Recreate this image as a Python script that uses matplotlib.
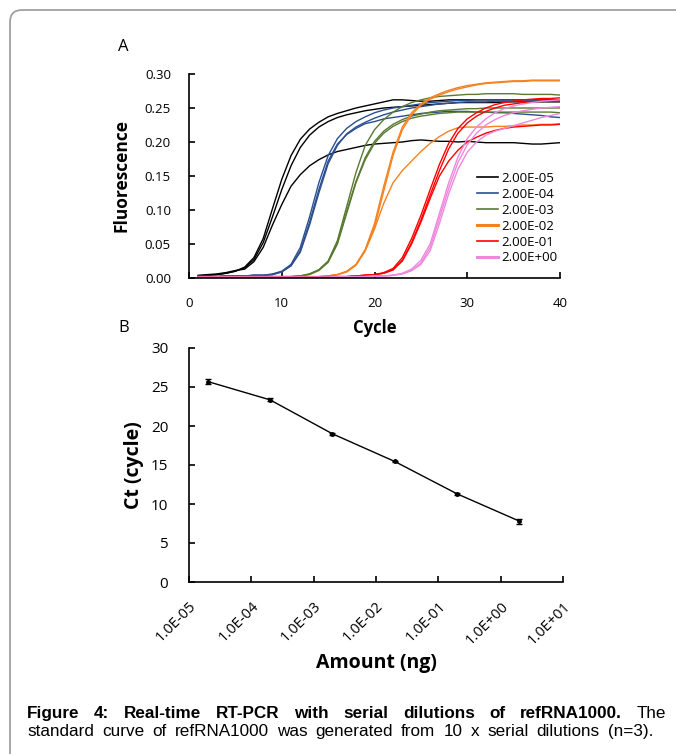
import matplotlib
matplotlib.use('Agg')
import matplotlib.pyplot as plt
import numpy as np
from matplotlib.patches import FancyBboxPatch

plt.rcParams['font.family'] = ['Open Sans', 'DejaVu Sans']

# ---- panel A: amplification curves (3 replicates per dilution, cycles 1..40)
cycles = list(range(1, 41))

dil_labels = ['2.00E-05', '2.00E-04', '2.00E-03', '2.00E-02', '2.00E-01', '2.00E+00']
dil_colors = ['#000000', '#2a4f8f', '#5a7a32', '#f5821f', '#ff0000', '#ee88dd']

curves_e05 = [
    [.003, .004, .005, .007, .010, .016, .030, .058, .102, .145,
     .180, .204, .219, .229, .237, .242, .246, .250, .253, .256,
     .259, .262, .262, .261, .260, .260, .261, .262, .262, .262,
     .262, .262, .262, .262, .262, .262, .262, .262, .262, .262],
    [.003, .004, .005, .007, .010, .015, .027, .052, .090, .130,
     .165, .192, .210, .222, .230, .236, .240, .243, .246, .248,
     .250, .251, .252, .253, .254, .255, .256, .257, .258, .258,
     .258, .258, .258, .259, .259, .259, .259, .259, .259, .259],
    [.004, .005, .006, .008, .011, .013, .024, .045, .078, .108,
     .135, .152, .165, .174, .181, .186, .189, .192, .195, .197,
     .198, .199, .200, .202, .203, .202, .201, .201, .200, .201,
     .200, .199, .199, .199, .199, .198, .197, .197, .198, .199],
]
curves_e04 = [
    [.002, .002, .002, .003, .003, .003, .004, .004, .006, .010,
     .020, .045, .090, .140, .180, .205, .220, .230, .237, .243,
     .247, .250, .252, .254, .256, .258, .259, .260, .261, .261,
     .262, .262, .262, .262, .262, .262, .262, .262, .262, .262],
    [.002, .002, .002, .003, .003, .003, .004, .004, .005, .009,
     .018, .040, .082, .130, .172, .197, .211, .220, .227, .230,
     .234, .236, .238, .240, .242, .243, .244, .245, .245, .245,
     .244, .244, .243, .243, .242, .241, .240, .239, .237, .236],
    [.002, .002, .002, .003, .003, .003, .004, .004, .005, .009,
     .018, .038, .078, .125, .168, .195, .212, .222, .229, .235,
     .240, .244, .247, .250, .252, .254, .256, .257, .258, .259,
     .259, .259, .260, .260, .260, .260, .260, .260, .260, .260],
]
curves_e03 = [
    [.002, .002, .002, .002, .002, .002, .002, .002, .002, .002,
     .002, .003, .006, .012, .025, .055, .105, .155, .195, .218,
     .233, .244, .252, .258, .262, .265, .267, .268, .269, .270,
     .270, .271, .271, .271, .271, .270, .270, .270, .270, .269],
    [.002, .002, .002, .002, .002, .002, .002, .002, .002, .002,
     .002, .003, .006, .012, .024, .052, .098, .142, .177, .201,
     .216, .226, .233, .238, .241, .244, .246, .247, .248, .249,
     .249, .250, .250, .250, .250, .250, .250, .250, .250, .250],
    [.002, .002, .002, .002, .002, .002, .002, .002, .002, .002,
     .002, .003, .005, .011, .023, .050, .095, .140, .174, .198,
     .213, .223, .230, .235, .238, .240, .242, .243, .244, .244,
     .244, .244, .244, .244, .244, .244, .244, .244, .244, .243],
]
curves_e02 = [
    [.002, .002, .002, .002, .002, .002, .002, .002, .002, .002,
     .002, .002, .002, .002, .003, .005, .010, .020, .042, .080,
     .135, .185, .222, .243, .256, .265, .271, .276, .280, .283,
     .285, .287, .288, .289, .290, .290, .291, .291, .291, .291],
    [.002, .002, .002, .002, .002, .002, .002, .002, .002, .002,
     .002, .002, .002, .002, .003, .005, .009, .019, .040, .075,
     .128, .180, .218, .240, .254, .263, .269, .274, .278, .281,
     .284, .286, .287, .288, .289, .289, .290, .290, .290, .290],
    [.002, .002, .002, .002, .002, .002, .002, .002, .002, .002,
     .002, .002, .002, .002, .003, .005, .009, .019, .040, .072,
     .110, .140, .158, .172, .186, .198, .208, .216, .221, .222,
     .222, .222, .223, .223, .224, .225, .225, .226, .226, .227],
]
curves_e01 = [
    [.001, .001, .001, .001, .001, .001, .001, .001, .001, .001,
     .001, .001, .001, .001, .002, .002, .002, .003, .004, .005,
     .008, .014, .030, .058, .092, .130, .167, .198, .220, .234,
     .243, .250, .255, .258, .260, .262, .263, .264, .264, .265],
    [.001, .001, .001, .001, .001, .001, .001, .001, .001, .001,
     .001, .001, .001, .001, .002, .002, .002, .003, .004, .005,
     .007, .012, .026, .052, .085, .122, .158, .190, .213, .228,
     .238, .245, .250, .254, .256, .258, .259, .260, .260, .260],
    [.001, .001, .001, .001, .001, .001, .001, .001, .001, .001,
     .001, .001, .001, .001, .002, .002, .002, .003, .004, .005,
     .007, .012, .025, .050, .082, .117, .150, .172, .188, .200,
     .207, .213, .217, .220, .222, .223, .224, .225, .225, .226],
]
curves_e00 = [
    [.001, .001, .001, .001, .001, .001, .001, .001, .001, .001,
     .001, .001, .001, .001, .001, .002, .002, .002, .002, .003,
     .003, .004, .007, .013, .026, .050, .095, .140, .178, .205,
     .222, .234, .243, .249, .253, .256, .258, .260, .261, .262],
    [.001, .001, .001, .001, .001, .001, .001, .001, .001, .001,
     .001, .001, .001, .001, .001, .002, .002, .002, .002, .003,
     .003, .004, .006, .011, .022, .045, .088, .132, .170, .196,
     .213, .225, .233, .239, .243, .246, .248, .250, .251, .252],
    [.001, .001, .001, .001, .001, .001, .001, .001, .001, .001,
     .001, .001, .001, .001, .001, .002, .002, .002, .002, .003,
     .003, .004, .006, .011, .020, .040, .080, .124, .160, .185,
     .200, .210, .216, .220, .224, .228, .232, .236, .239, .242],
]
all_curves = [curves_e05, curves_e04, curves_e03, curves_e02, curves_e01, curves_e00]

# ---- panel B: standard curve
amount_ng = [2e-5, 2e-4, 2e-3, 2e-2, 2e-1, 2e0]
ct_mean = [25.7, 23.35, 19.0, 15.45, 11.3, 7.8]
ct_sd = [0.3, 0.2, 0.12, 0.1, 0.12, 0.3]
b_ticks = [1e-5, 1e-4, 1e-3, 1e-2, 1e-1, 1e0, 1e1]
b_ticklabels = ['1.0E-05', '1.0E-04', '1.0E-03', '1.0E-02', '1.0E-01', '1.0E+00', '1.0E+01']

W, H = 676, 754
fig = plt.figure(figsize=(W / 100, H / 100), dpi=100)

# page frame (rounded corner at top-left)
frame = FancyBboxPatch((10 / W, -0.05), 1.2, (H - 10) / H + 0.05,
                       boxstyle='round,pad=0,rounding_size=0.018',
                       mutation_aspect=W / H, transform=fig.transFigure,
                       fill=False, ec='#a0a0a0', lw=1.3)
fig.add_artist(frame)

# ---- panel A
axA = fig.add_axes([189 / W, 1 - 278 / H, (560 - 189) / W, (278 - 74) / H])
for reps, col, lab in zip(all_curves, dil_colors, dil_labels):
    for i, r in enumerate(reps):
        axA.plot(cycles, r, color=col, lw=1.0, label=lab if i == 0 else None)
axA.set_xlim(0, 40)
axA.set_ylim(0, 0.30)
axA.set_xticks([0, 10, 20, 30, 40])
axA.set_yticks([0, 0.05, 0.10, 0.15, 0.20, 0.25, 0.30])
axA.set_yticklabels(['0.00', '0.05', '0.10', '0.15', '0.20', '0.25', '0.30'])
axA.spines[['top', 'right']].set_visible(False)
axA.tick_params(direction='in', length=4, width=1.2, labelsize=9.5)
axA.tick_params(axis='x', pad=14)
axA.tick_params(axis='y', pad=13)
for s in ['left', 'bottom']:
    axA.spines[s].set_linewidth(1.2)
axA.set_xlabel('Cycle', fontsize=12, fontweight='bold', labelpad=6)
axA.set_ylabel('Fluorescence', fontsize=12.5, fontweight='bold', labelpad=10)
leg = axA.legend(loc='upper left', bbox_to_anchor=(0.775, 0.52), frameon=False,
                 fontsize=9.5, handlelength=1.6, handletextpad=0.25,
                 labelspacing=0.22, borderpad=0, borderaxespad=0)
for h in leg.get_lines():
    if h.get_color() in ('#f5821f', '#ee88dd'):
        h.set_linewidth(2.2)
    else:
        h.set_linewidth(1.2)
fig.text(123 / W, 1 - 47 / H, 'A', fontsize=12, va='center', ha='center')

# ---- panel B
axB = fig.add_axes([189 / W, 1 - 582 / H, (563 - 189) / W, (582 - 348) / H])
axB.errorbar(amount_ng, ct_mean, yerr=ct_sd, color='black', lw=1.0,
             marker='o', ms=2.5, capsize=2.5, elinewidth=1.0, capthick=1.0)
axB.set_xscale('log')
axB.set_xlim(1e-5, 1e1)
axB.set_ylim(0, 30)
axB.set_yticks([0, 5, 10, 15, 20, 25, 30])
axB.set_xticks(b_ticks)
axB.set_xticklabels(b_ticklabels, rotation=45, ha='right', rotation_mode='anchor')
axB.minorticks_off()
axB.spines[['top', 'right']].set_visible(False)
for s in ['left', 'bottom']:
    axB.spines[s].set_linewidth(1.2)
axB.tick_params(direction='in', length=4, width=1.2)
axB.tick_params(axis='y', labelsize=11, pad=15)
axB.tick_params(axis='x', labelsize=10.5, pad=12)
axB.set_xlabel('Amount (ng)', fontsize=14, fontweight='bold', labelpad=4)
axB.set_ylabel('Ct (cycle)', fontsize=14, fontweight='bold', labelpad=5)
fig.text(124 / W, 1 - 328 / H, 'B', fontsize=12, va='center', ha='center')

# ---- caption: words spread to fill each line's width
cap_font = ['Liberation Sans', 'DejaVu Sans']
cap_size = 12.3
line1 = [(w, 'bold') for w in 'Figure 4: Real-time RT-PCR with serial dilutions of refRNA1000.'.split()]
line1 += [('The', 'normal')]
line2 = [(w, 'normal') for w in
         'standard curve of refRNA1000 was generated from 10 x serial dilutions (n=3).'.split()]
x_left = 27
fig.canvas.draw()
renderer = fig.canvas.get_renderer()


def spread(line, y, x_right):
    texts = [fig.text(0, 1 - y / H, w, fontsize=cap_size, fontweight=wt,
                      family=cap_font, va='baseline', ha='left') for w, wt in line]
    widths = [t.get_window_extent(renderer).width for t in texts]
    gap = (x_right - x_left - sum(widths)) / (len(texts) - 1)
    x = x_left
    for t, wd in zip(texts, widths):
        t.set_x(x / W)
        x += wd + gap


spread(line1, 718, 666)
spread(line2, 736, 653)

fig.savefig('out.png', dpi=100)
